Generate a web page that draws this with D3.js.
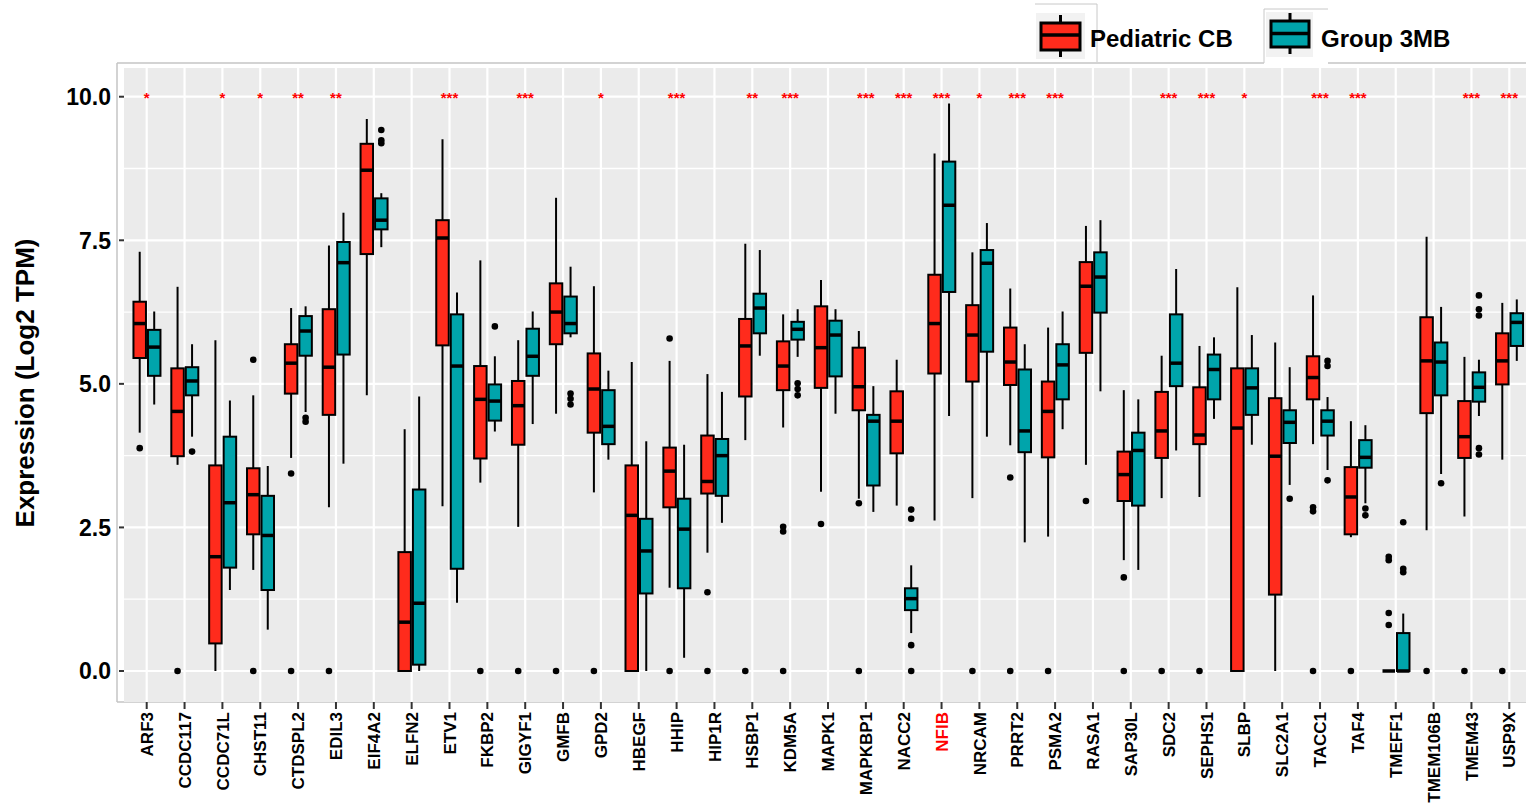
<!DOCTYPE html>
<html>
<head>
<meta charset="utf-8">
<script src="https://cdn.jsdelivr.net/npm/d3@7"></script>
<style>
    body { margin: 0; background: #fff; }
    text { font-family: 'Liberation Sans', Arial, sans-serif; }
</style>
</head>
<body>
<svg class="chart"></svg>
<script>
// Genes on the x axis
var genes = ['ARF3', 'CCDC117', 'CCDC71L', 'CHST11', 'CTDSPL2', 'EDIL3', 'EIF4A2', 'ELFN2', 'ETV1', 'FKBP2',
    'GIGYF1', 'GMFB', 'GPD2', 'HBEGF', 'HHIP', 'HIP1R', 'HSBP1', 'KDM5A', 'MAPK1', 'MAPKBP1', 'NACC2', 'NFIB',
    'NRCAM', 'PRRT2', 'PSMA2', 'RASA1', 'SAP30L', 'SDC2', 'SEPHS1', 'SLBP', 'SLC2A1', 'TACC1', 'TAF4', 'TMEFF1',
    'TMEM106B', 'TMEM43', 'USP9X'];

// Pediatric CB: [lower whisker, Q1, median, Q3, upper whisker]
var cbStats = [
    [4.15, 5.45, 6.05, 6.43, 7.30], [3.59, 3.74, 4.52, 5.27, 6.69], [0, 0.48, 1.99, 3.58, 5.76],
    [1.76, 2.38, 3.07, 3.53, 4.80], [3.71, 4.83, 5.36, 5.69, 6.32], [2.85, 4.46, 5.29, 6.30, 7.41],
    [4.80, 7.26, 8.72, 9.18, 9.61], [0, 0, 0.85, 2.07, 4.21], [2.87, 5.67, 7.54, 7.85, 9.26],
    [3.28, 3.70, 4.73, 5.31, 7.15], [2.51, 3.94, 4.62, 5.05, 5.76], [4.48, 5.69, 6.25, 6.75, 8.24],
    [3.11, 4.15, 4.91, 5.53, 6.70], [0, 0, 2.71, 3.58, 5.38], [1.45, 2.85, 3.48, 3.89, 5.40],
    [2.06, 3.09, 3.30, 4.10, 5.17], [4.02, 4.78, 5.66, 6.13, 7.44], [4.24, 4.89, 5.31, 5.74, 6.21],
    [3.12, 4.93, 5.63, 6.35, 6.81], [3.00, 4.54, 4.95, 5.63, 5.92], [2.88, 3.79, 4.35, 4.87, 5.42],
    [2.62, 5.18, 6.05, 6.90, 9.01], [3.01, 5.04, 5.85, 6.37, 7.29], [3.93, 4.98, 5.38, 5.98, 6.66],
    [2.34, 3.72, 4.52, 5.04, 5.98], [3.59, 5.54, 6.70, 7.12, 7.75], [1.93, 2.96, 3.42, 3.82, 4.89],
    [3.01, 3.71, 4.18, 4.86, 5.49], [3.03, 3.95, 4.11, 4.94, 5.66], [0, 0, 4.23, 5.27, 6.68],
    [0, 1.33, 3.74, 4.75, 5.72], [3.95, 4.73, 5.11, 5.48, 6.54], [2.33, 2.38, 3.03, 3.55, 4.35],
    [0, 0, 0, 0, 0], [2.45, 4.49, 5.40, 6.16, 7.56], [2.69, 3.71, 4.08, 4.70, 5.47],
    [3.68, 4.99, 5.40, 5.88, 6.41]
];
var cbOutliers = [
    [3.88], [0], [], [5.42, 0], [3.44, 0], [0], [], [], [], [0], [0], [0], [0], [], [5.79, 0], [1.37, 0], [0],
    [2.51, 2.43, 0], [2.56], [2.92, 0], [], [], [0], [3.37, 0], [0], [2.96], [1.63, 0], [0], [0], [], [],
    [2.85, 2.78, 0], [0], [1.99, 1.93, 1.01, 0.80], [0], [0], [0]
];

// Group 3MB: [lower whisker, Q1, median, Q3, upper whisker]
var mbStats = [
    [4.64, 5.14, 5.64, 5.94, 6.26], [4.08, 4.80, 5.05, 5.29, 5.69], [1.41, 1.80, 2.93, 4.08, 4.71],
    [0.72, 1.41, 2.36, 3.05, 3.57], [4.51, 5.49, 5.92, 6.18, 6.35], [3.61, 5.51, 7.11, 7.47, 7.98],
    [7.38, 7.69, 7.85, 8.23, 8.32], [0, 0.11, 1.18, 3.16, 4.78], [1.19, 1.78, 5.31, 6.21, 6.59],
    [4.17, 4.36, 4.70, 4.99, 5.48], [4.30, 5.14, 5.48, 5.96, 6.26], [5.81, 5.88, 6.05, 6.52, 7.04],
    [3.68, 3.95, 4.26, 4.89, 5.23], [0, 1.35, 2.09, 2.65, 4.00], [0.23, 1.44, 2.47, 3.00, 3.94],
    [2.58, 3.05, 3.75, 4.04, 4.86], [5.49, 5.88, 6.32, 6.57, 7.33], [5.47, 5.77, 5.95, 6.08, 6.30],
    [4.48, 5.13, 5.85, 6.10, 6.30], [2.77, 3.23, 4.35, 4.46, 4.96], [0.66, 1.06, 1.26, 1.44, 1.84],
    [4.44, 6.60, 8.11, 8.87, 9.88], [4.08, 5.56, 7.10, 7.33, 7.80], [2.24, 3.81, 4.18, 5.25, 5.69],
    [4.21, 4.73, 5.33, 5.69, 6.26], [4.87, 6.24, 6.86, 7.29, 7.85], [1.76, 2.88, 3.84, 4.15, 4.73],
    [3.84, 4.96, 5.36, 6.21, 7.00], [4.39, 4.73, 5.25, 5.51, 5.81], [3.94, 4.46, 4.93, 5.27, 5.85],
    [3.24, 3.97, 4.33, 4.54, 5.29], [3.50, 4.10, 4.35, 4.54, 4.77], [2.92, 3.54, 3.72, 4.02, 4.28],
    [0, 0, 0, 0.66, 1.00], [3.43, 4.80, 5.38, 5.72, 6.34], [4.44, 4.69, 4.94, 5.20, 5.42],
    [5.40, 5.66, 6.07, 6.23, 6.47]
];
var mbOutliers = [
    [], [3.82], [], [], [4.41, 4.34], [], [9.42, 9.24, 9.19], [], [], [6.00], [], [4.83, 4.74, 4.64], [], [],
    [], [], [], [5.01, 4.91, 4.80], [], [], [2.81, 2.65, 0.45, 0], [], [], [], [], [], [], [], [], [], [3.00],
    [5.40, 5.31, 3.32], [2.83, 2.71], [2.59, 1.78, 1.72], [3.27], [6.54, 6.30, 6.19, 3.88, 3.77], []
];

// Significance marks above each gene
var stars = ['*', '', '*', '*', '**', '**', '', '', '***', '', '***', '', '*', '', '***', '', '**', '***', '',
    '***', '***', '***', '*', '***', '***', '', '', '***', '***', '*', '', '***', '***', '', '', '***', '***'];

var yTicks = [0, 2.5, 5, 7.5, 10];
var yMinor = [1.25, 3.75, 6.25, 8.75];
var groups = ['Pediatric CB', 'Group 3MB'];
var colors = ['#ff2b1c', '#00a4ab'];

var W = 1526, H = 806;
var panel = { left: 124, top: 68, bottom: 702, right: 1532 };

var svg = d3.select('.chart').attr('width', W).attr('height', H);

var x = d3.scaleBand().domain(genes).range([panel.left, panel.right]).paddingInner(0).paddingOuter(0.1);
var y = d3.scaleLinear().domain([-0.54, 10.5]).range([panel.bottom, panel.top]);
var cx = function (g) { return x(g) + x.bandwidth() / 2; };

// outer frame lines
var frame = svg.append('g').attr('stroke', '#c4c4c4').attr('stroke-width', 1.5);
frame.append('line').attr('x1', 117).attr('x2', 117).attr('y1', 63).attr('y2', panel.bottom);
frame.append('line').attr('x1', 117).attr('x2', W).attr('y1', 63).attr('y2', 63);
frame.append('line').attr('x1', 117).attr('x2', W).attr('y1', panel.bottom).attr('y2', panel.bottom);

// panel background
svg.append('rect')
    .attr('x', panel.left).attr('y', panel.top)
    .attr('width', panel.right - panel.left).attr('height', panel.bottom - panel.top)
    .attr('fill', '#ebebeb');

// gridlines
svg.append('g').selectAll('line').data(yMinor).enter().append('line')
    .attr('x1', panel.left).attr('x2', panel.right)
    .attr('y1', function (d) { return y(d); }).attr('y2', function (d) { return y(d); })
    .attr('stroke', '#fff').attr('stroke-width', 1.3);
svg.append('g').selectAll('line').data(yTicks).enter().append('line')
    .attr('x1', panel.left).attr('x2', panel.right)
    .attr('y1', function (d) { return y(d); }).attr('y2', function (d) { return y(d); })
    .attr('stroke', '#fff').attr('stroke-width', 2.2);
svg.append('g').selectAll('line').data(genes).enter().append('line')
    .attr('x1', cx).attr('x2', cx)
    .attr('y1', panel.top).attr('y2', panel.bottom)
    .attr('stroke', '#fff').attr('stroke-width', 2.2);

// boxplots
var offsets = [-7, 7.5];
var bw = 12.5;
var series = [
    { stats: cbStats, outliers: cbOutliers },
    { stats: mbStats, outliers: mbOutliers }
];

series.forEach(function (s, k) {
    var g = svg.append('g').attr('class', 'series-' + k);
    var rows = genes.map(function (gene, i) {
        return { gene: gene, st: s.stats[i], out: s.outliers[i], c: cx(gene) + offsets[k] };
    });

    // whiskers
    g.selectAll('.whisker').data(rows).enter().append('line')
        .attr('x1', function (d) { return d.c; }).attr('x2', function (d) { return d.c; })
        .attr('y1', function (d) { return y(d.st[0]); }).attr('y2', function (d) { return y(d.st[4]); })
        .attr('stroke', '#000').attr('stroke-width', 2);

    // boxes
    g.selectAll('.box').data(rows).enter().append('rect')
        .attr('x', function (d) { return d.c - bw / 2; })
        .attr('width', bw)
        .attr('y', function (d) { return y(d.st[3]); })
        .attr('height', function (d) { return y(d.st[1]) - y(d.st[3]); })
        .attr('fill', colors[k]).attr('stroke', '#000').attr('stroke-width', 2);

    // medians
    g.selectAll('.median').data(rows).enter().append('line')
        .attr('x1', function (d) { return d.c - bw / 2; }).attr('x2', function (d) { return d.c + bw / 2; })
        .attr('y1', function (d) { return y(d.st[2]); }).attr('y2', function (d) { return y(d.st[2]); })
        .attr('stroke', '#000').attr('stroke-width', 3.5);

    // outliers
    var pts = [];
    rows.forEach(function (d) {
        d.out.forEach(function (v) { pts.push({ c: d.c, v: v }); });
    });
    g.selectAll('.dot').data(pts).enter().append('circle')
        .attr('cx', function (d) { return d.c; })
        .attr('cy', function (d) { return y(d.v); })
        .attr('r', 3.3)
        .attr('fill', '#000');
});

// significance stars
svg.append('g').selectAll('text').data(genes).enter().append('text')
    .attr('x', cx)
    .attr('y', y(10) + 6)
    .attr('text-anchor', 'middle')
    .attr('font-size', 15)
    .attr('font-weight', 'bold')
    .attr('fill', '#ff0000')
    .text(function (d, i) { return stars[i]; });

// y axis ticks + labels
var yAxis = svg.append('g');
yAxis.selectAll('line').data(yTicks).enter().append('line')
    .attr('x1', 119).attr('x2', panel.left)
    .attr('y1', function (d) { return y(d); }).attr('y2', function (d) { return y(d); })
    .attr('stroke', '#333').attr('stroke-width', 2);
yAxis.selectAll('text').data(yTicks).enter().append('text')
    .attr('x', 111)
    .attr('y', function (d) { return y(d); })
    .attr('dy', '0.36em')
    .attr('text-anchor', 'end')
    .attr('font-size', 23)
    .attr('font-weight', 'bold')
    .attr('fill', '#000')
    .text(d3.format('.1f'));

// x axis ticks + labels
var xAxis = svg.append('g');
xAxis.selectAll('line').data(genes).enter().append('line')
    .attr('x1', cx).attr('x2', cx)
    .attr('y1', panel.bottom).attr('y2', panel.bottom + 7)
    .attr('stroke', '#333').attr('stroke-width', 2);
xAxis.selectAll('text').data(genes).enter().append('text')
    .attr('transform', function (d) { return 'translate(' + cx(d) + ',712) rotate(-90)'; })
    .attr('dy', '0.36em')
    .attr('text-anchor', 'end')
    .attr('font-size', 17)
    .attr('font-weight', 'bold')
    .attr('fill', function (d) { return d === 'NFIB' ? '#ff0000' : '#000'; })
    .text(function (d) { return d; });

// y axis title
svg.append('text')
    .attr('transform', 'translate(25,383) rotate(-90)')
    .attr('dy', '0.36em')
    .attr('text-anchor', 'middle')
    .attr('font-size', 26)
    .attr('font-weight', 'bold')
    .text('Expression (Log2 TPM)');

// legend (two pasted keys)
var legend = svg.append('g');
legend.append('rect').attr('x', 1264).attr('y', 9).attr('width', 64).attr('height', 56).attr('fill', '#fff');
legend.append('line').attr('x1', 1035).attr('x2', 1097).attr('y1', 4).attr('y2', 4).attr('stroke', '#c8c8c8');
legend.append('line').attr('x1', 1097).attr('x2', 1097).attr('y1', 4).attr('y2', 62).attr('stroke', '#c8c8c8');
legend.append('line').attr('x1', 1264).attr('x2', 1328).attr('y1', 9).attr('y2', 9).attr('stroke', '#c8c8c8');
legend.append('line').attr('x1', 1264).attr('x2', 1264).attr('y1', 9).attr('y2', 63).attr('stroke', '#c8c8c8');

var keys = [
    { x: 1036, y: 13, w: 49, h: 46, bx: 1041, by: 23, bw: 39, bh: 27, med: 35, wy1: 15, wy2: 57, tx: 1090 },
    { x: 1266, y: 12, w: 47, h: 45, bx: 1271, by: 21, bw: 38, bh: 26, med: 33.5, wy1: 13, wy2: 54, tx: 1321 }
];
keys.forEach(function (k, i) {
    var mid = k.bx + k.bw / 2;
    legend.append('rect').attr('x', k.x).attr('y', k.y).attr('width', k.w).attr('height', k.h).attr('fill', '#f2f2f2');
    legend.append('line').attr('x1', mid).attr('x2', mid).attr('y1', k.wy1).attr('y2', k.wy2)
        .attr('stroke', '#000').attr('stroke-width', 3);
    legend.append('rect').attr('x', k.bx).attr('y', k.by).attr('width', k.bw).attr('height', k.bh)
        .attr('fill', colors[i]).attr('stroke', '#000').attr('stroke-width', 3);
    legend.append('line').attr('x1', k.bx).attr('x2', k.bx + k.bw).attr('y1', k.med).attr('y2', k.med)
        .attr('stroke', '#000').attr('stroke-width', 3.5);
    legend.append('text')
        .attr('x', k.tx).attr('y', 47)
        .attr('font-size', 24)
        .attr('font-weight', 'bold')
        .text(groups[i]);
});
</script>
</body>
</html>
